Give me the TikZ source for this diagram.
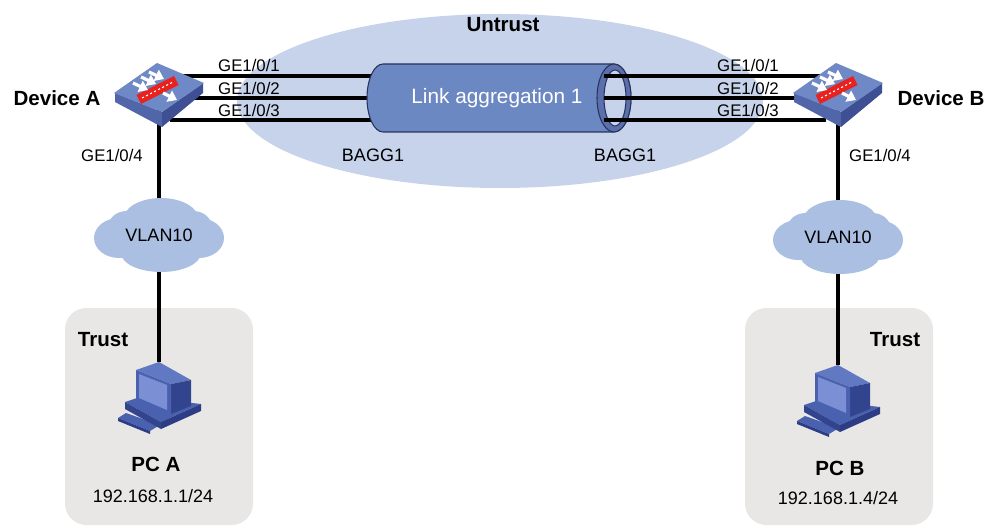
\documentclass[tikz,border=0pt]{standalone}
\usepackage{fontspec}
\setmainfont{Liberation Sans}
\usetikzlibrary{arrows.meta}

\definecolor{zoneblue}{HTML}{C6D3EA}
\definecolor{cloudblue}{HTML}{AABFE2}
\definecolor{trustgray}{HTML}{E8E7E5}
\definecolor{devtop}{HTML}{6F89C6}
\definecolor{devleft}{HTML}{5066A8}
\definecolor{devright}{HTML}{3E5093}
\definecolor{fwred}{HTML}{E8221E}
\definecolor{tubefill}{HTML}{6C88C2}
\definecolor{tubeedge}{HTML}{27335E}
\definecolor{ringfill}{HTML}{5B70AA}
\definecolor{pctop}{HTML}{6079C2}
\definecolor{pcfront}{HTML}{4A61B0}
\definecolor{pcscreen}{HTML}{7B90D4}
\definecolor{pcside}{HTML}{33448F}
\definecolor{pcdark}{HTML}{2D3D85}

\tikzset{
  link/.style={line width=2.3pt, black},
  lbl/.style={font=\fontsize{12.6}{15}\selectfont, inner sep=0pt},
  lblm/.style={font=\fontsize{13.5}{16}\selectfont, inner sep=0pt},
  title/.style={font=\bfseries\fontsize{15.4}{18}\selectfont, inner sep=0pt},
  fwarrow/.style={white, line width=2.4pt, -{Triangle[length=6.5pt,width=9pt]}},
  % firewall icon, origin at the centre of its top face
  firewall/.pic={
    \fill[devleft] (-44,5) -- (3,24) -- (3,39) -- (-44,14) -- cycle;
    \fill[devright] (3,24) -- (44,-5) -- (44,5) -- (3,39) -- cycle;
    \fill[devtop] (-45,5) -- (-2,-25) -- (45,-5) -- (3,24) -- cycle;
    \fill[fwred] (-22.5,7) -- (15,-12) -- (19.5,-3) -- (-18,16) -- cycle;
    \draw[white, line width=0.8pt, dash pattern=on 1.6pt off 1.8pt] (-17,10) -- (14,-6);
    \foreach \dx/\dy in {-26/-5, -18/-11, -10/-16}
      \draw[fwarrow] (\dx,\dy) -- ++(15,7);
    \draw[fwarrow] (4,5) -- ++(14,7);
  },
  % desktop computer icon, origin near the middle of the monitor
  computer/.pic={
    \fill[pcfront] (-41,22) -- (-33,17) -- (1,29) -- (-9,35) -- cycle;
    \fill[pcdark] (-41,22) -- (-9,35) -- (-9,38) -- (-41,25) -- cycle;
    \fill[pcfront] (-34,6) -- (-19,1) -- (42,8) -- (2,26) -- cycle;
    \fill[pcside] (-34,6) -- (2,26) -- (2,33) -- (-34,13) -- cycle;
    \fill[pcdark] (2,26) -- (42,8) -- (42,15) -- (2,33) -- cycle;
    \fill[pctop] (-23,-26) -- (0,-34) -- (32,-16) -- (12,-12) -- cycle;
    \fill[pcside] (12,-12) -- (32,-16) -- (32,10) -- (12,18) -- cycle;
    \fill[pcfront] (-23,-26) -- (12,-12) -- (12,18) -- (-23,5) -- cycle;
    \fill[pcscreen] (-20,-22) -- (8,-11) -- (8,14) -- (-20,2) -- cycle;
  },
  % VLAN cloud, origin at its centre
  vlancloud/.pic={
    \fill[cloudblue] (0,2) ellipse [x radius=52, y radius=24];
    \fill[cloudblue] (2,-15) ellipse [x radius=38, y radius=22];
    \fill[cloudblue] (-40,3) ellipse [x radius=25, y radius=20];
    \fill[cloudblue] (40,3) ellipse [x radius=25, y radius=20];
    \fill[cloudblue] (2,18) ellipse [x radius=40, y radius=19];
    \fill[cloudblue] (-32,-10) ellipse [x radius=18, y radius=14];
    \fill[cloudblue] (34,-10) ellipse [x radius=18, y radius=14];
  }
}

\begin{document}
\begin{tikzpicture}[x=0.75pt, y=-0.75pt]
\useasboundingbox (0,0) rectangle (984,527);

% anchor points
\coordinate (devA) at (159,88);
\coordinate (devB) at (838,88);
\coordinate (vlanA) at (159,235);
\coordinate (vlanB) at (838,237);
\coordinate (pcA) at (159,362);
\coordinate (pcB) at (838,365);
\foreach \i/\y in {1/76, 2/98, 3/120} {
  \coordinate (pA\i) at (170,\y);
  \coordinate (tL\i) at (380,\y);
  \coordinate (tR\i) at (604,\y);
  \coordinate (pB\i) at (826,\y);
}

% security zones
\fill[zoneblue] (500,101) ellipse [x radius=263, y radius=87];
\fill[trustgray, rounded corners=16] (65,308) rectangle (253,525);
\fill[trustgray, rounded corners=16] (745,308) rectangle (933,525);

% access links
\draw[link] (devA) -- (vlanA);
\draw[link] (vlanA) -- (pcA);
\draw[link] (devB) -- (vlanB);
\draw[link] (vlanB) -- (pcB);

% member links, left side
\foreach \i in {1,2,3} \draw[link] (pA\i) -- (tL\i);

% aggregation tube
\filldraw[fill=tubefill, draw=tubeedge, line width=0.8pt]
  (383,64) -- (614,64) arc [start angle=-90, end angle=90, x radius=17, y radius=34]
  -- (383,132) arc [start angle=90, end angle=270, x radius=16, y radius=34] -- cycle;
\filldraw[fill=ringfill, draw=tubeedge, line width=0.8pt] (614,98) ellipse [x radius=17, y radius=34];
\filldraw[fill=zoneblue, draw=tubeedge, line width=0.8pt] (615,98) ellipse [x radius=11, y radius=28];
\node[font=\fontsize{15.6}{18}\selectfont, text=white] (lagg) at (497,98) {Link aggregation 1};

% member links, right side
\foreach \i in {1,2,3} \draw[link] (tR\i) -- (pB\i);

% devices
\pic at (devA) {firewall};
\pic at (devB) {firewall};

% VLAN clouds
\pic at (vlanA) {vlancloud};
\pic at (vlanB) {vlancloud};
\node[lblm] (vA) at (vlanA) {VLAN10};
\node[lblm] (vB) at (vlanB) {VLAN10};

% hosts
\pic at (159,396) {computer};
\pic at (838,399) {computer};

% labels
\node[title] (untrust) at (503,25) {Untrust};
\node[title] (nameA) at (57,98) {Device A};
\node[title] (nameB) at (941,98) {Device B};
\node[title] (trA) at (103,340) {Trust};
\node[title] (trB) at (895,340) {Trust};
\node[title] (pcnA) at (156,464) {PC A};
\node[title] (pcnB) at (840,468) {PC B};
\node[lblm] (ipA) at (153,496) {192.168.1.1/24};
\node[lblm] (ipB) at (838,498) {192.168.1.4/24};

\node[lbl] (gA1) at (249,65) {GE1/0/1};
\node[lbl] (gA2) at (249,88) {GE1/0/2};
\node[lbl] (gA3) at (249,110) {GE1/0/3};
\node[lbl] (gB1) at (748,65) {GE1/0/1};
\node[lbl] (gB2) at (748,88) {GE1/0/2};
\node[lbl] (gB3) at (748,110) {GE1/0/3};
\node[lbl] (gA4) at (112,155) {GE1/0/4};
\node[lbl] (gB4) at (880,155) {GE1/0/4};
\node[lblm] (bagA) at (373,155) {BAGG1};
\node[lblm] (bagB) at (625,155) {BAGG1};
\end{tikzpicture}
\end{document}
